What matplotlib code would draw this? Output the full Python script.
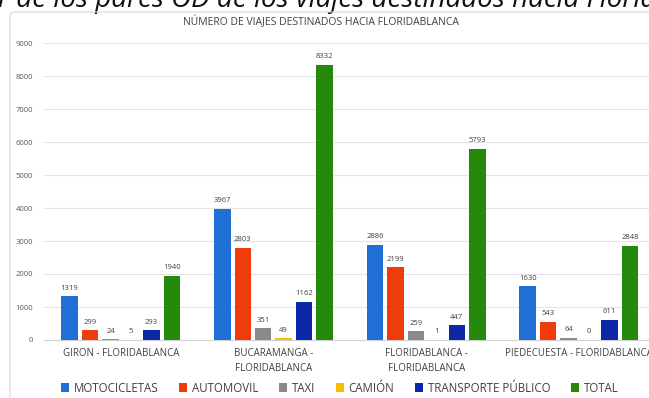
import matplotlib.pyplot as plt
import numpy as np
from matplotlib.patches import FancyBboxPatch

plt.rcParams["font.family"] = ["Open Sans", "DejaVu Sans"]

categories = ["GIRON - FLORIDABLANCA", "BUCARAMANGA -\nFLORIDABLANCA",
              "FLORIDABLANCA -\nFLORIDABLANCA", "PIEDECUESTA - FLORIDABLANCA"]
series = ["MOTOCICLETAS", "AUTOMOVIL", "TAXI", "CAMIÓN", "TRANSPORTE PÚBLICO", "TOTAL"]
motocicletas = [1319, 3967, 2886, 1630]
automovil = [299, 2803, 2199, 543]
taxi = [24, 351, 259, 64]
camion = [5, 49, 1, 0]
transporte = [293, 1162, 447, 611]
total = [1940, 8332, 5793, 2848]
values = [motocicletas, automovil, taxi, camion, transporte, total]
colors = ["#1f6fd6", "#f03c0c", "#8a8a8a", "#f5c000", "#0c28a6", "#25890c"]

W, H = 649, 398
fig = plt.figure(figsize=(W / 100, H / 100), dpi=100)

# caption line above, partly cut off
fig.text(-2 / W, 1 - 7 / H, "r de los pares OD de los viajes destinados hacia Floridablanca",
         fontsize=20, style="italic", color="#111111", va="baseline", ha="left")

left, right = 44.4, 655.2
bottom, top = 340, 43
ax = fig.add_axes([left / W, (H - bottom) / H, (right - left) / W, (bottom - top) / H])

x = np.arange(len(categories))
pitch, width = 0.134, 0.108
for i, (name, vals, c) in enumerate(zip(series, values, colors)):
    pos = x + (i - 2.5) * pitch
    ax.bar(pos, vals, width, color=c, label=name, zorder=3)
    for p, v in zip(pos, vals):
        ax.text(p, v + 140, str(v), ha="center", va="bottom", fontsize=5.5, color="#404040")

ax.set_xlim(-0.5, 3.5)
ax.set_ylim(0, 9000)
ax.set_yticks(range(0, 9001, 1000))
ax.tick_params(axis="y", labelsize=5.5, labelcolor="#595959", length=0, pad=8)
ax.set_xticks(x)
ax.set_xticklabels(categories, fontsize=7, color="#404040", linespacing=1.4)
ax.tick_params(axis="x", length=0, pad=6)
ax.grid(axis="y", color="#e4e4e4", lw=0.8, zorder=0)
for s in ["top", "right", "left"]:
    ax.spines[s].set_visible(False)
ax.spines["bottom"].set_color("#d0d0d0")

# frame around the chart
fig.patches.append(FancyBboxPatch((10 / W, -0.05), 1.0, (H - 12) / H + 0.05,
                                  boxstyle="round,pad=0,rounding_size=0.01",
                                  transform=fig.transFigure, fc="none",
                                  ec="#d9d9d9", lw=0.8, zorder=5))

fig.text(321 / W, 1 - 22 / H, "NÚMERO DE VIAJES DESTINADOS HACIA FLORIDABLANCA",
         ha="center", va="center", fontsize=7.5, color="#404040")

handles, labels = ax.get_legend_handles_labels()
fig.legend(handles, labels, loc="center", bbox_to_anchor=(340 / W, 1 - 388 / H), ncol=6,
           frameon=False, fontsize=8.3, handlelength=0.7, handleheight=0.7,
           handletextpad=0.4, columnspacing=1.8, labelcolor="#404040")

fig.savefig("out.png", dpi=100)
